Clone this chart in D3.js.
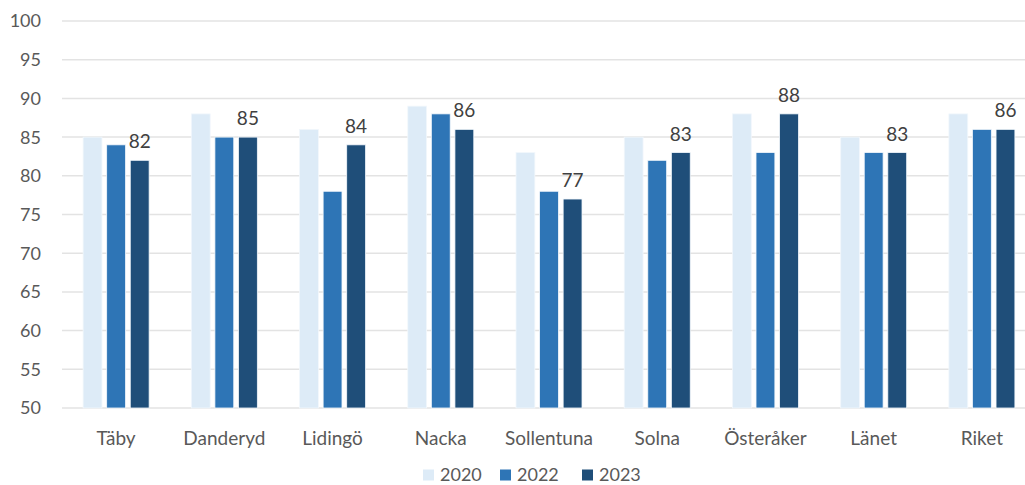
<!DOCTYPE html>
<html>
<head>
<meta charset="utf-8">
<script src="https://cdn.jsdelivr.net/npm/d3@7"></script>
<style>
  body { margin: 0; background: #fff; }
  svg text { font-family: Lato, "Open Sans", sans-serif; fill: #595959; }
</style>
</head>
<body>
<svg id="chart"></svg>
<script>
const CATEGORIES = ['Täby', 'Danderyd', 'Lidingö', 'Nacka', 'Sollentuna', 'Solna', 'Österåker', 'Länet', 'Riket']
const YEARS = ['2020', '2022', '2023']
const VALUES_2020 = [85, 88, 86, 89, 83, 85, 88, 85, 88]
const VALUES_2022 = [84, 85, 78, 88, 78, 82, 83, 83, 86]
const VALUES_2023 = [82, 85, 84, 86, 77, 83, 88, 83, 86]
const Y_TICKS = [50, 55, 60, 65, 70, 75, 80, 85, 90, 95, 100]

const width = 1025
const height = 485
const colors = ['#ddebf7', '#2e75b6', '#1f4e79']

const series = [VALUES_2020, VALUES_2022, VALUES_2023]
const rows = CATEGORIES.map((c, i) => ({
    name: c,
    values: YEARS.map((y, j) => ({ year: y, value: series[j][i] }))
}))

const svg = d3.select('#chart')
    .attr('width', width)
    .attr('height', height)

const x0 = d3.scaleBand()
    .domain(CATEGORIES)
    .range([62, 1036])
    .paddingInner(0.39)
    .paddingOuter(0.195)

const x1 = d3.scaleBand()
    .domain(YEARS)
    .range([0, x0.bandwidth()])
    .paddingInner(0.2)

const y = d3.scaleLinear()
    .domain([50, 100])
    .range([408, 21])

const color = d3.scaleOrdinal().domain(YEARS).range(colors)

// grid lines
svg.append('g')
    .selectAll('line')
    .data(Y_TICKS)
    .enter().append('line')
    .attr('x1', 62)
    .attr('x2', width)
    .attr('y1', d => y(d))
    .attr('y2', d => y(d))
    .attr('stroke', '#e3e3e3')
    .attr('stroke-width', 1.5)

// y labels
svg.append('g')
    .selectAll('text')
    .data(Y_TICKS)
    .enter().append('text')
    .attr('x', 41)
    .attr('y', d => y(d))
    .attr('dy', '.36em')
    .style('text-anchor', 'end')
    .style('font-size', '18px')
    .text(d => d)

// bars
const groups = svg.selectAll('.group')
    .data(rows)
    .enter().append('g')
    .attr('class', 'group')
    .attr('transform', d => `translate(${x0(d.name)},0)`)

groups.selectAll('rect')
    .data(d => d.values)
    .enter().append('rect')
    .attr('x', d => x1(d.year))
    .attr('width', x1.bandwidth())
    .attr('y', d => y(d.value))
    .attr('height', d => y(50) - y(d.value))
    .attr('fill', d => color(d.year))
    .attr('stroke', '#f2f7fc')
    .attr('stroke-width', 0.8)

// data labels on 2023
groups.append('text')
    .attr('x', x1('2023') + x1.bandwidth() / 2)
    .attr('y', d => y(d.values[2].value) - 12)
    .style('text-anchor', 'middle')
    .style('font-size', '19px')
    .style('fill', '#404040')
    .text(d => d.values[2].value)

// category labels
svg.append('g')
    .selectAll('text')
    .data(CATEGORIES)
    .enter().append('text')
    .attr('x', d => x0(d) + x0.bandwidth() / 2)
    .attr('y', 438)
    .attr('dy', '.35em')
    .style('text-anchor', 'middle')
    .style('font-size', '19px')
    .text(d => d)

// legend
const legendX = [423, 500, 582]
const legend = svg.selectAll('.legend')
    .data(YEARS)
    .enter().append('g')
    .attr('class', 'legend')
    .attr('transform', (d, i) => `translate(${legendX[i]},475)`)

legend.append('rect')
    .attr('x', 0)
    .attr('y', -5.5)
    .attr('width', 11)
    .attr('height', 11)
    .attr('fill', d => color(d))

legend.append('text')
    .attr('x', 17)
    .attr('y', 0)
    .attr('dy', '.35em')
    .style('font-size', '18px')
    .text(d => d)
</script>
</body>
</html>
